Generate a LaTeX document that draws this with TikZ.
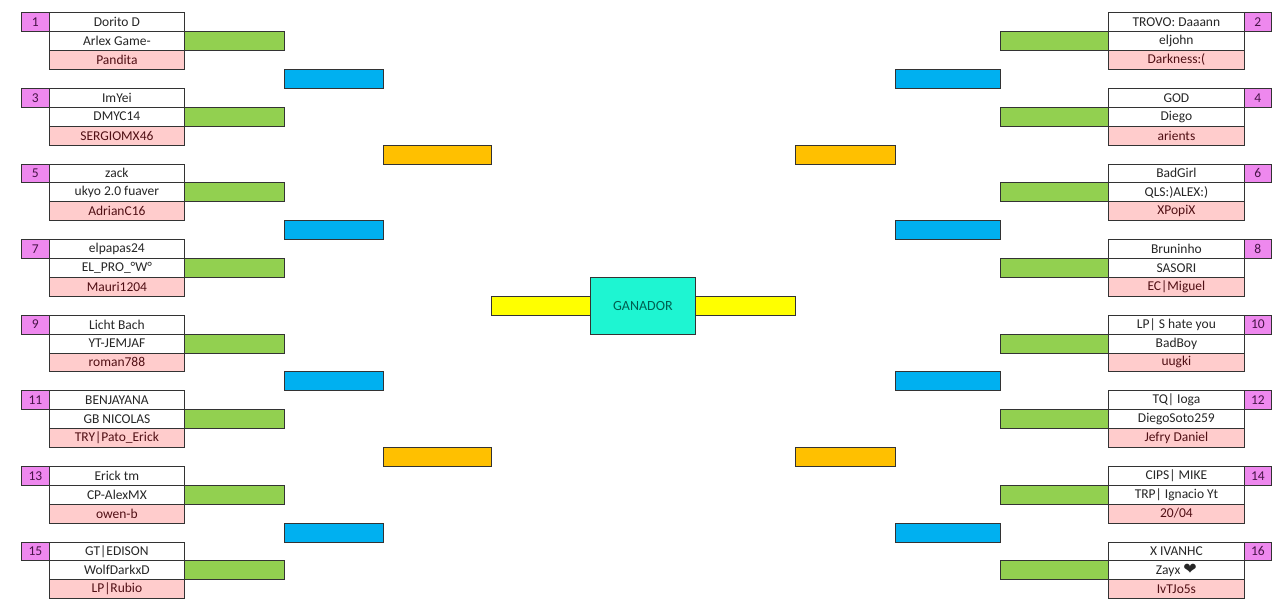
\documentclass[tikz,border=0pt]{standalone}
\usepackage{fontspec}
\setmainfont{Carlito}
\newfontfamily\heartfont{DejaVu Sans}
\definecolor{seed}{RGB}{238,136,238}
\definecolor{seedtext}{RGB}{70,20,70}
\definecolor{lost}{RGB}{255,204,204}
\definecolor{losttext}{RGB}{80,15,20}
\definecolor{octavos}{RGB}{146,208,80}
\definecolor{cuartos}{RGB}{0,176,240}
\definecolor{semis}{RGB}{255,192,0}
\definecolor{final}{RGB}{255,255,0}
\definecolor{champ}{RGB}{30,245,210}
\definecolor{champtext}{RGB}{0,95,80}

\begin{document}
\begin{tikzpicture}
  [x=1pt,y=-1pt,
   every node/.style={draw=black!80,line width=0.8pt,anchor=north west,inner sep=0pt,
     minimum height=18.9pt,font=\fontsize{13.5}{16}\selectfont,text=black!85},
   seedbox/.style={fill=seed,text=seedtext,minimum width=#1},
   namebox/.style={fill=white,minimum width=#1},
   outbox/.style={fill=lost,text=losttext,minimum width=#1},
   bar/.style={minimum width=#1}]
  \useasboundingbox (0,0) rectangle (1280,606);

  % left half of the bracket
  \foreach \k/\n/\a/\b/\c in
  {0/1/{Dorito D}/{Arlex Game-}/{Pandita},
   1/3/{ImYei}/{DMYC14}/{SERGIOMX46},
   2/5/{zack}/{ukyo 2.0 fuaver}/{AdrianC16},
   3/7/{elpapas24}/{EL\_PRO\_°W°}/{Mauri1204},
   4/9/{Licht Bach}/{YT-JEMJAF}/{roman788},
   5/11/{BENJAYANA}/{GB NICOLAS}/{TRY|Pato\_Erick},
   6/13/{Erick tm}/{CP-AlexMX}/{owen-b},
   7/15/{GT|EDISON}/{WolfDarkxD}/{LP|Rubio}}
  {
    \node[seedbox=28pt] (seed\n) at (21,12.3+75.6*\k) {\n};
    \node[namebox=135pt] (top\n) at (49,12.3+75.6*\k) {\a};
    \node[namebox=135pt] (mid\n) at (49,31.2+75.6*\k) {\b};
    \node[outbox=135pt] (low\n) at (49,50.1+75.6*\k) {\c};
    \node[bar=100pt,fill=octavos] (oct\n) at (184,31.2+75.6*\k) {};
  }

  % right half of the bracket
  \foreach \k/\n/\a/\b/\c in
  {0/2/{TROVO: Daaann}/{eljohn}/{Darkness:(},
   1/4/{GOD}/{Diego}/{arients},
   2/6/{BadGirl}/{QLS:)ALEX:)}/{XPopiX},
   3/8/{Bruninho}/{SASORI}/{EC|Miguel},
   4/10/{LP| S hate you}/{BadBoy}/{uugki},
   5/12/{TQ| Ioga}/{DiegoSoto259}/{Jefry Daniel},
   6/14/{CIPS| MIKE}/{TRP| Ignacio Yt}/{20/04},
   7/16/{X IVANHC}/{Zayx {\heartfont\fontsize{16}{16}\selectfont ❤}}/{IvTJo5s}}
  {
    \node[seedbox=27pt] (seed\n) at (1244,12.3+75.6*\k) {\n};
    \node[namebox=136pt] (top\n) at (1108,12.3+75.6*\k) {\a};
    \node[namebox=136pt] (mid\n) at (1108,31.2+75.6*\k) {\b};
    \node[outbox=136pt] (low\n) at (1108,50.1+75.6*\k) {\c};
    \node[bar=108pt,fill=octavos] (oct\n) at (1000,31.2+75.6*\k) {};
  }

  \foreach \j in {0,...,3}
  {
    \node[bar=99pt,fill=cuartos] (cuarL\j) at (284,69+151.2*\j) {};
    \node[bar=105pt,fill=cuartos] (cuarR\j) at (895,69+151.2*\j) {};
  }
  \foreach \j in {0,1}
  {
    \node[bar=108pt,fill=semis] (semiL\j) at (383,144.6+302.4*\j) {};
    \node[bar=100pt,fill=semis] (semiR\j) at (795,144.6+302.4*\j) {};
  }

  \node[bar=99pt,fill=final] (finL) at (491,295.8) {};
  \node[bar=100pt,fill=final] (finR) at (695,295.8) {};
  \node[minimum width=105pt,minimum height=56.7pt,fill=champ,text=champtext,
    font=\fontsize{14}{16}\selectfont] (ganador) at (590,276.9) {GANADOR};

\end{tikzpicture}
\end{document}
